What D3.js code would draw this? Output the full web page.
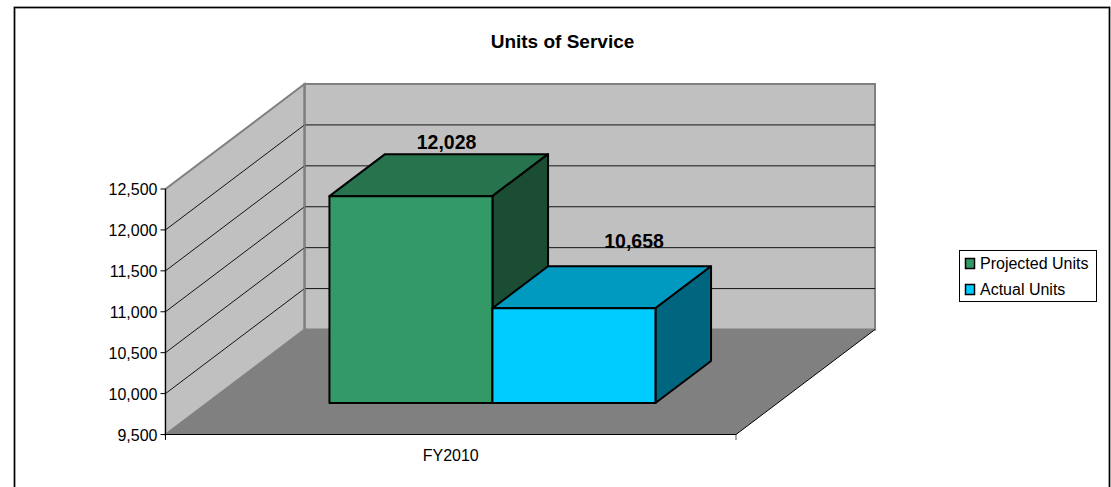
<!DOCTYPE html>
<html><head><meta charset="utf-8">
<script src="https://cdn.jsdelivr.net/npm/d3@7"></script>
<style>html,body{margin:0;padding:0;background:#fff}svg{display:block}text{font-family:"Liberation Sans",Arial,sans-serif;fill:#000}</style>
</head><body><svg id="c" width="1111" height="487"></svg>
<script>
const categories = ["FY2010"];
const seriesNames = ["Projected Units", "Actual Units"];
const seriesValues = [12028, 10658];
const seriesFront = ["#339966", "#00ccff"];
const seriesTop = ["#26734d", "#0099bf"];
const seriesSide = ["#1a4d33", "#006680"];
const yTicks = [9500, 10000, 10500, 11000, 11500, 12000, 12500];
const chartTitle = "Units of Service";

const svg = d3.select("#c");
const fmt = d3.format(",");
const y = d3.scaleLinear().domain([9500, 12500]).range([434.5, 189]);
const x = d3.scaleBand().domain(categories).range([165.5, 736]);
const seriesX = d3.scaleBand().domain(seriesNames).range([0, x.bandwidth()]).paddingOuter(0.75).paddingInner(0);
const depthX = d3.scaleLinear().domain([0, 1]).range([0, 139]);
const depthY = d3.scaleLinear().domain([0, 1]).range([0, -105]);
const P = (px, py, t) => [px + depthX(t), py + depthY(t)];
const line = d3.line();
const poly = pts => line(pts) + "Z";

// outer frame
svg.append("path").attr("d", "M14.5,487V7.5H1109.5V487").attr("fill", "none").attr("stroke", "#d8d8d8").attr("stroke-width", 3);
svg.append("path").attr("d", "M14.5,487V7.5H1109.5V487").attr("fill", "none").attr("stroke", "#000").attr("stroke-width", 1.5);

svg.append("text").attr("x", 562.5).attr("y", 47.5).attr("text-anchor", "middle")
  .attr("font-size", 19).attr("font-weight", "bold").text(chartTitle);

const x0 = x.range()[0], x1 = x.range()[1], yb = y.domain()[0], yt = y.domain()[1];
// walls
svg.append("path").attr("d", poly([P(x0, y(yb), 1), P(x1, y(yb), 1), P(x1, y(yt), 1), P(x0, y(yt), 1)]))
  .attr("fill", "#c0c0c0").attr("stroke", "#808080").attr("stroke-width", 2);
svg.append("path").attr("d", poly([P(x0, y(yb), 0), P(x0, y(yb), 1), P(x0, y(yt), 1), P(x0, y(yt), 0)]))
  .attr("fill", "#c0c0c0").attr("stroke", "#808080").attr("stroke-width", 2);
// floor
svg.append("path").attr("d", poly([P(x0, y(yb), 0), P(x1, y(yb), 0), P(x1, y(yb), 1), P(x0, y(yb), 1)]))
  .attr("fill", "#808080");
// gridlines
yTicks.slice(1, -1).forEach(v => {
  svg.append("path").attr("d", line([P(x0, y(v), 0), P(x0, y(v), 1), P(x1, y(v), 1)]))
    .attr("fill", "none").attr("stroke", "#000").attr("stroke-width", 1).attr("stroke-opacity", 0.9);
});
// redraw the wall corner above the gridlines
svg.append("line").attr("x1", P(x0, 0, 1)[0]).attr("x2", P(x0, 0, 1)[0]).attr("y1", P(x0, y(yt), 1)[1]).attr("y2", P(x0, y(yb), 1)[1])
  .attr("stroke", "#808080").attr("stroke-width", 2);
// floor front & right edges
svg.append("path").attr("d", line([P(x0, y(yb), 0), P(x1, y(yb), 0), P(x1, y(yb), 1)]))
  .attr("fill", "none").attr("stroke", "#000").attr("stroke-width", 1);

// value axis
const yAxisLine = svg.append("g");
yAxisLine.append("line").attr("x1", x0).attr("x2", x0).attr("y1", y(yt)).attr("y2", 440).attr("stroke", "#000");
yTicks.forEach(v => {
  yAxisLine.append("line").attr("x1", x0 - 5).attr("x2", x0).attr("y1", y(v)).attr("y2", y(v)).attr("stroke", "#000");
  yAxisLine.append("text").attr("x", x0 - 8).attr("y", y(v) + 6).attr("text-anchor", "end").attr("font-size", 16).text(fmt(v));
});
// category axis
svg.append("line").attr("x1", x1).attr("x2", x1).attr("y1", y(yb)).attr("y2", 440).attr("stroke", "#555");
svg.append("text").attr("x", x(categories[0]) + x.bandwidth() / 2).attr("y", 461).attr("text-anchor", "middle")
  .attr("font-size", 16).text(categories[0]);

// bars
const tF = 0.3, tB = 0.7;
seriesValues.forEach((v, i) => {
  const a = x(categories[0]) + seriesX(seriesNames[i]), b = a + seriesX.bandwidth();
  const g = svg.append("g").attr("stroke", "#000").attr("stroke-width", 2).attr("stroke-linejoin", "round");
  g.append("path").attr("d", poly([P(a, y(v), tF), P(b, y(v), tF), P(b, y(v), tB), P(a, y(v), tB)])).attr("fill", seriesTop[i]);
  g.append("path").attr("d", poly([P(b, y(yb), tF), P(b, y(yb), tB), P(b, y(v), tB), P(b, y(v), tF)])).attr("fill", seriesSide[i]);
  g.append("path").attr("d", poly([P(a, y(yb), tF), P(b, y(yb), tF), P(b, y(v), tF), P(a, y(v), tF)])).attr("fill", seriesFront[i]);
});
// labels, after every bar
const labelDx = [-20, 4.5], labelDy = [-5, -18.5];
seriesValues.forEach((v, i) => {
  const a = x(categories[0]) + seriesX(seriesNames[i]);
  const p = P(a + seriesX.bandwidth() / 2, y(v), tB);
  svg.append("text").attr("x", p[0] + labelDx[i]).attr("y", p[1] + labelDy[i])
    .attr("text-anchor", "middle").attr("font-size", 19.5).attr("font-weight", "bold").text(fmt(v));
});

// legend
svg.append("rect").attr("x", 959.5).attr("y", 250.5).attr("width", 137).attr("height", 51)
  .attr("fill", "#fff").attr("stroke", "#000");
seriesNames.forEach((n, i) => {
  const ly = 263.5 + i * 26;
  svg.append("rect").attr("x", 965.5).attr("y", ly - 5).attr("width", 9).attr("height", 10)
    .attr("fill", seriesFront[i]).attr("stroke", "#000").attr("stroke-width", 1.5);
  svg.append("text").attr("x", 980).attr("y", ly + 5.5).attr("font-size", 16).text(n);
});
</script></body></html>
